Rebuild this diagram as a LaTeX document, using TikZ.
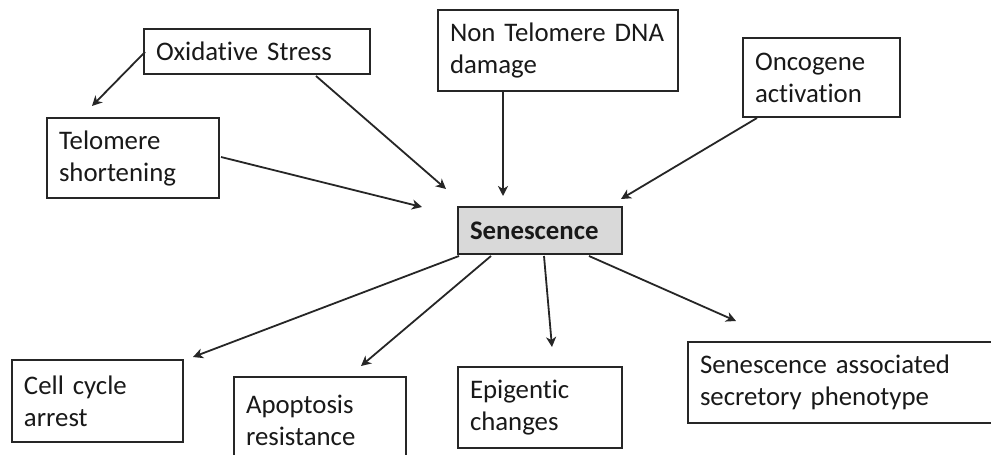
\documentclass[tikz,border=0pt]{standalone}
\usepackage{fontspec}
\setmainfont{Carlito}[Ligatures=NoCommon]
\usetikzlibrary{arrows.meta,calc}
\definecolor{boxgray}{HTML}{D9D9D9}
\newcommand{\boxfont}{\fontsize{13.4}{16}\selectfont\spaceskip=0.15em plus 0.05em\relax}
\tikzset{
  box/.style={draw=black!85, line width=1pt, inner xsep=6pt, inner ysep=0pt,
    align=left, font=\boxfont, text=black!90},
  conn/.style={draw=black!85, line width=0.9pt, -{Stealth[length=5pt,width=5pt,inset=1.5pt]}}
}
\begin{document}
\begin{tikzpicture}[x=0.5pt,y=-0.5pt]
\useasboundingbox (0,0) rectangle (991,455);
\clip (0,0) rectangle (991,455);
\fill[white] (0,0) rectangle (991,455);
% boxes
\node[box, minimum width=113pt, minimum height=22.5pt, text width=101pt] (ox) at (257,51.5) {Oxidative Stress};
\node[box, minimum width=86pt, minimum height=40pt, text width=74pt] (tel) at (133,158) {Telomere\\shortening};
\node[box, minimum width=120pt, minimum height=40.5pt, text width=108pt] (ntd) at (558,50.5) {Non Telomere DNA\\damage};
\node[box, minimum width=78.5pt, minimum height=39.5pt, text width=66.5pt] (onc) at (821.5,77.5) {Oncogene\\activation};
\node[box, fill=boxgray, minimum width=82pt, minimum height=23.5pt, text width=70pt, font=\boxfont\bfseries] (sen) at (540,230.5) {Senescence};
\node[box, minimum width=85.5pt, minimum height=41pt, text width=73.5pt] (cca) at (97.5,401) {Cell cycle\\arrest};
\node[box, minimum width=86pt, minimum height=43pt, text width=74pt] (apo) at (320,420) {Apoptosis\\resistance};
\node[box, minimum width=82pt, minimum height=40.5pt, text width=70pt] (epi) at (540,407.5) {Epigentic\\changes};
\node[box, minimum width=156pt, minimum height=40.5pt, text width=144pt] (sasp) at (844,382.5) {Senescence associated\\secretory phenotype};
% free ends
\coordinate (t1) at ($(tel.north west)+(46,-11)$);
\coordinate (t2) at ($(sen.north west)+(-11,-17)$);
\coordinate (t3) at ($(sen.north west)+(-35,1)$);
\coordinate (t4) at ($(sen.north west)+(46,-10)$);
\coordinate (t5) at ($(sen.north east)+(-2,-7)$);
\coordinate (t6) at ($(cca.north east)+(9,-2)$);
\coordinate (t7) at ($(apo.north west)+(128,-10)$);
\coordinate (t8) at ($(epi.north west)+(95,-19)$);
\coordinate (t9) at ($(sasp.north west)+(49,-20)$);
% connectors
\draw[conn] ($(ox.north west)+(2,24)$) -- (t1);
\draw[conn] ($(ox.south west)+(173,1)$) -- (t2);
\draw[conn] ($(tel.north east)+(1,40)$) -- (t3);
\draw[conn] ($(ntd.south west)+(66,0)$) -- (t4);
\draw[conn] ($(onc.south west)+(15,0)$) -- (t5);
\draw[conn] ($(sen.south west)+(2,1)$) -- (t6);
\draw[conn] ($(sen.south west)+(34,1)$) -- (t7);
\draw[conn] ($(sen.south west)+(87,1)$) -- (t8);
\draw[conn] ($(sen.south west)+(132,1)$) -- (t9);
\end{tikzpicture}
\end{document}
